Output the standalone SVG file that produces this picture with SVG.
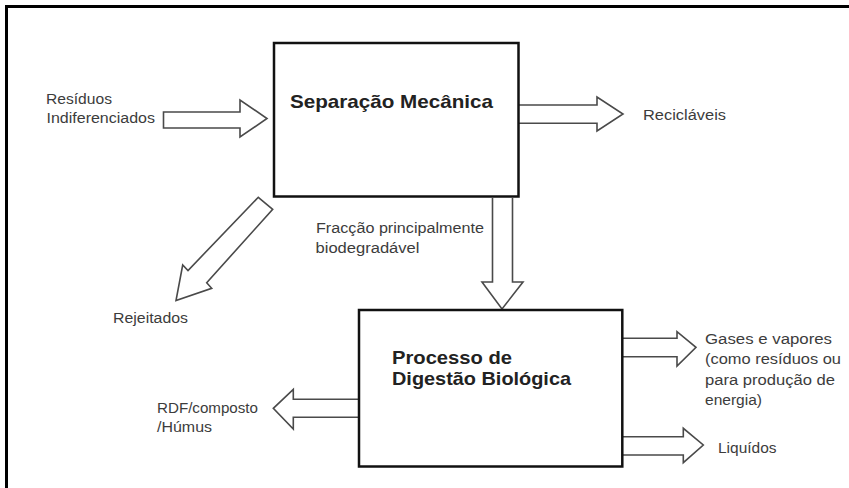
<svg xmlns="http://www.w3.org/2000/svg" width="849" height="488" viewBox="0 0 849 488">
<style>
.frame{fill:none;stroke:#000;stroke-width:3}
.box{fill:#fff;stroke:#111;stroke-width:2.5}
.arrow{fill:#fff;stroke:#4a4a4a;stroke-width:1.6;stroke-linejoin:miter}
.lbl{font-family:"Liberation Sans",Arial,sans-serif;font-size:14px;fill:#3c3c3c}
.ttl{font-family:"Liberation Sans",Arial,sans-serif;font-size:18.5px;font-weight:bold;fill:#222}
</style>
<rect width="849" height="488" fill="#fff"/>
<polyline class="frame" points="6.5,488 6.5,6.5 849,6.5"/>
<g id="connectors">
  <polygon class="arrow" points="163.5,112 240,112 240,100 267,118.5 240,137 240,128 163.5,128"/>
  <polyline class="arrow" points="519,105 597,105 597,97 623,114 597,131 597,123.3 519,123.3"/>
  <polyline class="arrow" points="492.5,198 492.5,282 482,282 502,309 523,282 512.5,282 512.5,198"/>
  <polygon class="arrow" points="258.3,197.3 272.7,209.3 206.7,282.7 211.7,288.3 176,300.5 182.7,265 188,270.5"/>
  <polyline class="arrow" points="623,338.3 677,338.3 677,331.7 696,347.3 677,366 677,356.7 623,356.7"/>
  <polyline class="arrow" points="623,436.7 683.3,436.7 683.3,428.3 703.3,445 683.3,462.7 683.3,455 623,455"/>
  <polyline class="arrow" points="358,399.3 293.3,399.3 293.3,389.3 273.3,408.3 293.3,429 293.3,417.3 358,417.3"/>
</g>
<g id="node-separacao">
  <rect class="box" x="274" y="43" width="244.5" height="153.5"/>
  <text class="ttl" x="290" y="107.5" textLength="203" lengthAdjust="spacingAndGlyphs">Separação Mecânica</text>
</g>
<g id="node-digestao">
  <rect class="box" x="359" y="310" width="263.3" height="156.5"/>
  <text class="ttl" x="392" y="363.5" textLength="120" lengthAdjust="spacingAndGlyphs">Processo de</text>
  <text class="ttl" x="392" y="385" textLength="179" lengthAdjust="spacingAndGlyphs">Digestão Biológica</text>
</g>
<g id="label-residuos">
  <text class="lbl" x="46" y="104" textLength="66" lengthAdjust="spacingAndGlyphs">Resíduos</text>
  <text class="lbl" x="46.5" y="123" textLength="108.5" lengthAdjust="spacingAndGlyphs">Indiferenciados</text>
</g>
<g id="label-reciclaveis">
  <text class="lbl" x="643" y="120" textLength="83" lengthAdjust="spacingAndGlyphs">Recicláveis</text>
</g>
<g id="label-fraccao">
  <text class="lbl" x="316" y="233" textLength="168" lengthAdjust="spacingAndGlyphs">Fracção principalmente</text>
  <text class="lbl" x="315.5" y="253" textLength="104" lengthAdjust="spacingAndGlyphs">biodegradável</text>
</g>
<g id="label-rejeitados">
  <text class="lbl" x="113" y="323" textLength="75" lengthAdjust="spacingAndGlyphs">Rejeitados</text>
</g>
<g id="label-gases">
  <text class="lbl" x="705" y="343.5" textLength="127" lengthAdjust="spacingAndGlyphs">Gases e vapores</text>
  <text class="lbl" x="705" y="364" textLength="136" lengthAdjust="spacingAndGlyphs">(como resíduos ou</text>
  <text class="lbl" x="705" y="384.5" textLength="130" lengthAdjust="spacingAndGlyphs">para produção de</text>
  <text class="lbl" x="705" y="405" textLength="57" lengthAdjust="spacingAndGlyphs">energia)</text>
</g>
<g id="label-liquidos">
  <text class="lbl" x="718" y="452.5" textLength="58.5" lengthAdjust="spacingAndGlyphs">Liquídos</text>
</g>
<g id="label-rdf">
  <text class="lbl" x="157" y="413" textLength="101" lengthAdjust="spacingAndGlyphs">RDF/composto</text>
  <text class="lbl" x="157" y="432" textLength="55" lengthAdjust="spacingAndGlyphs">/Húmus</text>
</g>
</svg>
